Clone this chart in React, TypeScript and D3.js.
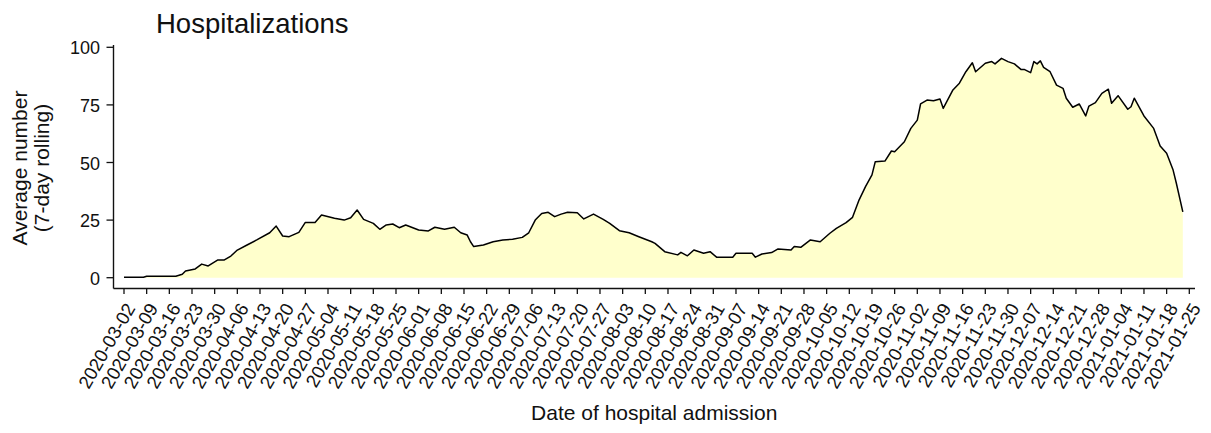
import React from "react";
import * as d3 from "d3";

const title = "Hospitalizations";
const xTitle = "Date of hospital admission";
const yTitleLines = ["Average number", "(7-day rolling)"];

const dates = [
  "2020-03-02","2020-03-08","2020-03-09","2020-03-18","2020-03-20","2020-03-21","2020-03-24","2020-03-26","2020-03-28","2020-03-31",
  "2020-04-02","2020-04-04","2020-04-06","2020-04-09","2020-04-12","2020-04-16","2020-04-18","2020-04-20","2020-04-22","2020-04-25",
  "2020-04-27","2020-04-30","2020-05-02","2020-05-06","2020-05-09","2020-05-11","2020-05-13","2020-05-15","2020-05-18","2020-05-20",
  "2020-05-22","2020-05-24","2020-05-26","2020-05-28","2020-06-01","2020-06-04","2020-06-06","2020-06-09","2020-06-12","2020-06-14",
  "2020-06-16","2020-06-17","2020-06-18","2020-06-21","2020-06-24","2020-06-27","2020-06-30","2020-07-03","2020-07-05","2020-07-07",
  "2020-07-09","2020-07-11","2020-07-13","2020-07-15","2020-07-17","2020-07-20","2020-07-22","2020-07-25","2020-07-28","2020-07-30",
  "2020-08-02","2020-08-05","2020-08-08","2020-08-12","2020-08-13","2020-08-16","2020-08-20","2020-08-21","2020-08-23","2020-08-25",
  "2020-08-28","2020-08-30","2020-09-01","2020-09-06","2020-09-07","2020-09-12","2020-09-13","2020-09-15","2020-09-18","2020-09-20",
  "2020-09-24","2020-09-25","2020-09-27","2020-09-30","2020-10-03","2020-10-06","2020-10-08","2020-10-11","2020-10-13","2020-10-15",
  "2020-10-17","2020-10-19","2020-10-20","2020-10-23","2020-10-25","2020-10-26","2020-10-29","2020-10-31","2020-11-02","2020-11-03",
  "2020-11-05","2020-11-07","2020-11-09","2020-11-10","2020-11-13","2020-11-15","2020-11-17","2020-11-19","2020-11-20","2020-11-23",
  "2020-11-25","2020-11-26","2020-11-28","2020-11-30","2020-12-02","2020-12-04","2020-12-05","2020-12-07","2020-12-08","2020-12-09",
  "2020-12-10","2020-12-11","2020-12-13","2020-12-15","2020-12-17","2020-12-18","2020-12-20","2020-12-22","2020-12-24","2020-12-25",
  "2020-12-27","2020-12-29","2020-12-31","2021-01-01","2021-01-03","2021-01-06","2021-01-07","2021-01-08","2021-01-11","2021-01-14",
  "2021-01-16","2021-01-18","2021-01-20","2021-01-21","2021-01-23"
];

const values = [
  0.2,0.2,0.6,0.6,1.5,2.9,3.8,5.9,5.1,7.7,
  7.7,9.4,12.0,14.2,16.4,19.5,22.4,18.1,17.8,19.7,
  24.0,24.0,27.2,25.8,25.0,26.0,29.4,25.3,23.6,21.0,
  22.9,23.3,21.7,22.9,20.7,20.3,21.9,21.0,21.9,19.5,
  18.5,15.6,13.5,14.2,15.6,16.4,16.7,17.5,19.5,25.0,
  27.9,28.4,26.5,27.6,28.4,28.2,25.5,27.6,25.3,23.6,
  20.4,19.5,17.8,15.6,14.9,11.3,9.9,11.0,9.5,12.0,
  10.6,11.3,8.9,8.9,10.6,10.6,8.9,10.3,10.9,12.5,
  12.0,13.5,13.2,16.4,15.6,19.3,21.4,23.9,26.2,33.7,
  39.5,44.6,50.3,50.6,55.0,54.7,59.0,64.8,68.4,75.4,
  77.1,76.8,77.6,73.5,81.5,84.4,89.4,93.3,89.4,93.1,
  93.8,92.8,95.2,93.8,92.8,90.4,90.4,89.0,93.8,92.8,
  94.1,91.3,89.4,83.6,82.2,77.9,74.0,75.4,70.2,74.5,
  76.0,80.0,81.8,75.7,79.0,73.1,74.2,77.9,70.2,64.8,
  57.2,54.0,46.7,41.0,28.6
];

const xTickStart = "2020-03-02";
const xTickEnd = "2021-01-25";
const yTicks = [0, 25, 50, 75, 100];

const W = 1211;
const H = 433;
const FONT = "'Liberation Sans', Arial, Helvetica, sans-serif";

export default function App() {
  const parse = d3.utcParse("%Y-%m-%d");
  const fmt = d3.utcFormat("%Y-%m-%d");
  const t0 = parse(xTickStart)!;
  const t1 = parse(xTickEnd)!;

  const x = d3.scaleUtc().domain([t0, t1]).range([124, 1189.3]);
  const y = d3.scaleLinear().domain([0, 100]).range([277.7, 47.3]);

  const data = dates.map((d, i) => ({ date: parse(d)!, value: values[i] }));
  const ticks = d3.utcMonday.range(t0, d3.utcDay.offset(t1, 1));

  const area = d3
    .area<{ date: Date; value: number }>()
    .x((d) => x(d.date))
    .y0(y(0))
    .y1((d) => y(d.value));
  const line = d3
    .line<{ date: Date; value: number }>()
    .x((d) => x(d.date))
    .y((d) => y(d.value));

  const panelLeft = 113.5;
  const panelRight = 1195;
  const panelTop = 45;
  const panelBottom = 288.5;

  return (
    <div style={{ position: "absolute", left: 0, top: 0 }}>
      <svg width={W} height={H} style={{ display: "block", background: "#fff" }} fontFamily={FONT}>
        <text x={156} y={32.5} fontSize={27.5} fill="#111">
          {title}
        </text>

        <path d={area(data) || ""} fill="#FFFFCC" stroke="none" />
        <path d={line(data) || ""} fill="none" stroke="#000" strokeWidth={1.5} strokeLinejoin="round" />

        <line x1={panelLeft} x2={panelLeft} y1={panelTop} y2={panelBottom} stroke="#111" strokeWidth={1.4} />
        <line x1={panelLeft} x2={panelRight} y1={panelBottom} y2={panelBottom} stroke="#111" strokeWidth={1.4} />

        {yTicks.map((v) => (
          <g key={v}>
            <line x1={106.5} x2={panelLeft} y1={y(v)} y2={y(v)} stroke="#111" strokeWidth={1.3} />
            <text x={100} y={y(v) + 1} fontSize={18} textAnchor="end" dominantBaseline="central" fill="#111">
              {v}
            </text>
          </g>
        ))}

        {ticks.map((t) => (
          <g key={t.getTime()}>
            <line x1={x(t)} x2={x(t)} y1={panelBottom} y2={panelBottom + 5.5} stroke="#111" strokeWidth={1.3} />
            <text
              transform={`translate(${x(t) + 12},${308}) rotate(-60)`}
              fontSize={18.5}
              textAnchor="end"
              fill="#111"
            >
              {fmt(t)}
            </text>
          </g>
        ))}

        <text x={(panelLeft + panelRight) / 2} y={420} fontSize={21} textAnchor="middle" fill="#111">
          {xTitle}
        </text>

        {yTitleLines.map((s, i) => (
          <text
            key={s}
            transform={`translate(${27 + i * 21.5},${168}) rotate(-90)`}
            fontSize={21}
            textAnchor="middle"
            fill="#111"
          >
            {s}
          </text>
        ))}
      </svg>
    </div>
  );
}
